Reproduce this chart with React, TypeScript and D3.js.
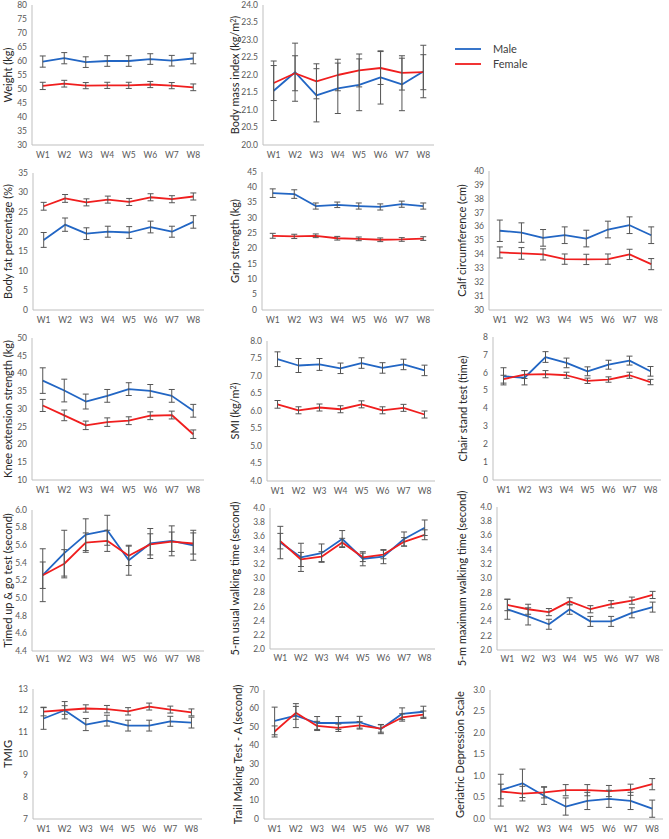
import React from "react";
import { line, range, scaleBand, scaleLinear } from "d3";

const weeks = ["W1", "W2", "W3", "W4", "W5", "W6", "W7", "W8"];

// means and error bars
const weightMale = [59.8, 61.0, 59.6, 60.0, 60.0, 60.7, 60.1, 60.9];
const weightMaleSd = [2.0, 2.0, 1.9, 1.9, 1.9, 1.9, 1.9, 1.9];
const weightFemale = [51.1, 51.9, 51.2, 51.3, 51.3, 51.6, 51.2, 50.6];
const weightFemaleSd = [1.3, 1.2, 1.1, 1.1, 1.1, 1.1, 1.1, 1.2];

const bmiMale = [21.55, 22.08, 21.42, 21.62, 21.72, 21.93, 21.73, 22.1];
const bmiMaleSd = [0.85, 0.83, 0.76, 0.72, 0.74, 0.76, 0.75, 0.75];
const bmiFemale = [21.77, 22.05, 21.82, 22.0, 22.13, 22.2, 22.06, 22.08];
const bmiFemaleSd = [0.5, 0.5, 0.5, 0.45, 0.47, 0.47, 0.49, 0.5];

const fatMale = [17.9, 21.8, 19.5, 20.0, 19.8, 21.2, 20.0, 22.5];
const fatMaleSd = [1.9, 1.7, 1.5, 1.4, 1.5, 1.5, 1.4, 1.6];
const fatFemale = [26.5, 28.5, 27.5, 28.2, 27.6, 28.8, 28.3, 29.0];
const fatFemaleSd = [1.0, 1.0, 0.9, 0.9, 0.9, 0.9, 0.9, 0.9];

const gripMale = [38.1, 37.8, 33.9, 34.3, 33.9, 33.6, 34.5, 33.9];
const gripMaleSd = [1.4, 1.4, 1.0, 0.9, 1.0, 1.0, 1.0, 1.0];
const gripFemale = [24.2, 24.0, 24.2, 23.4, 23.2, 22.9, 23.0, 23.3];
const gripFemaleSd = [0.8, 0.7, 0.6, 0.6, 0.6, 0.6, 0.6, 0.6];

const calfMale = [35.7, 35.57, 35.19, 35.38, 35.14, 35.79, 36.1, 35.38];
const calfMaleSd = [0.77, 0.7, 0.6, 0.6, 0.6, 0.6, 0.6, 0.6];
const calfFemale = [34.14, 34.07, 34.0, 33.66, 33.64, 33.66, 34.0, 33.3];
const calfFemaleSd = [0.4, 0.42, 0.4, 0.37, 0.37, 0.37, 0.37, 0.4];

const kneeMale = [38.0, 35.2, 32.1, 33.7, 35.6, 35.1, 33.7, 29.5];
const kneeMaleSd = [3.6, 3.2, 2.1, 1.8, 1.8, 1.8, 1.8, 1.8];
const kneeFemale = [31.0, 28.2, 25.4, 26.3, 26.7, 28.1, 28.3, 22.9];
const kneeFemaleSd = [1.7, 1.5, 1.2, 1.2, 1.1, 1.1, 1.1, 1.2];

const smiMale = [7.48, 7.3, 7.33, 7.22, 7.37, 7.23, 7.33, 7.16];
const smiMaleSd = [0.21, 0.2, 0.17, 0.15, 0.15, 0.15, 0.15, 0.15];
const smiFemale = [6.19, 6.02, 6.1, 6.05, 6.19, 6.02, 6.09, 5.9];
const smiFemaleSd = [0.11, 0.1, 0.1, 0.1, 0.1, 0.1, 0.1, 0.1];

const chairMale = [5.8, 5.72, 6.88, 6.55, 6.08, 6.45, 6.68, 6.08];
const chairMaleSd = [0.48, 0.4, 0.3, 0.27, 0.25, 0.25, 0.25, 0.27];
const chairFemale = [5.64, 5.9, 5.92, 5.86, 5.55, 5.62, 5.86, 5.48];
const chairFemaleSd = [0.22, 0.22, 0.2, 0.17, 0.15, 0.15, 0.17, 0.15];

const tugMale = [5.26, 5.51, 5.72, 5.77, 5.43, 5.62, 5.65, 5.6];
const tugMaleSd = [0.3, 0.26, 0.18, 0.17, 0.17, 0.17, 0.17, 0.17];
const tugFemale = [5.26, 5.39, 5.63, 5.65, 5.48, 5.61, 5.64, 5.62];
const tugFemaleSd = [0.15, 0.16, 0.11, 0.12, 0.11, 0.12, 0.11, 0.12];

const usualMale = [3.51, 3.3, 3.36, 3.56, 3.28, 3.31, 3.56, 3.72];
const usualMaleSd = [0.23, 0.2, 0.13, 0.12, 0.1, 0.1, 0.1, 0.11];
const usualFemale = [3.53, 3.27, 3.31, 3.51, 3.3, 3.34, 3.52, 3.62];
const usualFemaleSd = [0.11, 0.1, 0.07, 0.06, 0.06, 0.06, 0.06, 0.07];

const maxMale = [2.57, 2.47, 2.36, 2.57, 2.4, 2.4, 2.52, 2.6];
const maxMaleSd = [0.14, 0.12, 0.07, 0.07, 0.07, 0.07, 0.07, 0.07];
const maxFemale = [2.63, 2.57, 2.53, 2.68, 2.57, 2.64, 2.69, 2.77];
const maxFemaleSd = [0.08, 0.07, 0.05, 0.05, 0.05, 0.05, 0.05, 0.05];

const tmigMale = [11.64, 12.02, 11.36, 11.54, 11.31, 11.31, 11.51, 11.45];
const tmigMaleSd = [0.5, 0.4, 0.28, 0.25, 0.25, 0.25, 0.23, 0.25];
const tmigFemale = [11.96, 12.03, 12.1, 12.07, 11.97, 12.19, 12.05, 11.92];
const tmigFemaleSd = [0.2, 0.2, 0.17, 0.17, 0.17, 0.16, 0.16, 0.16];

const tmtMale = [53.2, 56.1, 52.1, 52.1, 52.5, 48.8, 57.1, 58.2];
const tmtMaleSd = [7.5, 6.5, 3.5, 3.5, 3.2, 2.5, 3.2, 3.0];
const tmtFemale = [47.5, 57.6, 50.5, 49.5, 50.8, 49.1, 55.1, 56.6];
const tmtFemaleSd = [3.0, 3.5, 2.5, 2.0, 2.0, 2.0, 2.0, 2.0];

const gdsMale = [0.67, 0.83, 0.54, 0.29, 0.42, 0.47, 0.42, 0.24];
const gdsMaleSd = [0.37, 0.33, 0.2, 0.2, 0.2, 0.2, 0.2, 0.2];
const gdsFemale = [0.64, 0.59, 0.62, 0.67, 0.67, 0.65, 0.68, 0.81];
const gdsFemaleSd = [0.17, 0.17, 0.13, 0.13, 0.13, 0.13, 0.13, 0.13];

const BLUE = "#2266c4";
const RED = "#f01e1e";
const FONT = "Lato, 'Open Sans', sans-serif";

type Panel = {
  title: string;
  sup?: boolean;
  male: number[];
  maleSd: number[];
  female: number[];
  femaleSd: number[];
  domain: [number, number];
  step: number;
  digits: number;
  x0: number;
  x1: number;
  y0: number;
  y1: number;
  titleX: number;
  labelGap?: number;
};

const panels: Panel[] = [
  { title: "Weight (kg)", male: weightMale, maleSd: weightMaleSd, female: weightFemale, femaleSd: weightFemaleSd, domain: [30, 80], step: 5, digits: 0, x0: 32, x1: 204, y0: 5, y1: 145, titleX: 8 },
  { title: "Body mass index (kg/m", sup: true, male: bmiMale, maleSd: bmiMaleSd, female: bmiFemale, femaleSd: bmiFemaleSd, domain: [20, 24], step: 0.5, digits: 1, x0: 263, x1: 434, y0: 5, y1: 145, titleX: 235 },
  { title: "Body fat percentage (%)", male: fatMale, maleSd: fatMaleSd, female: fatFemale, femaleSd: fatFemaleSd, domain: [0, 35], step: 5, digits: 0, x0: 33, x1: 204, y0: 173, y1: 310, titleX: 8 },
  { title: "Grip strength (kg)", male: gripMale, maleSd: gripMaleSd, female: gripFemale, femaleSd: gripFemaleSd, domain: [0, 45], step: 5, digits: 0, x0: 262, x1: 434, y0: 172, y1: 310, titleX: 235 },
  { title: "Calf circumference (cm)", male: calfMale, maleSd: calfMaleSd, female: calfFemale, femaleSd: calfFemaleSd, domain: [30, 40], step: 1, digits: 0, x0: 489, x1: 662, y0: 171, y1: 310, titleX: 462 },
  { title: "Knee extension strength (kg)", male: kneeMale, maleSd: kneeMaleSd, female: kneeFemale, femaleSd: kneeFemaleSd, domain: [10, 50], step: 5, digits: 0, x0: 32, x1: 204, y0: 338, y1: 480, titleX: 8 },
  { title: "SMI (kg/m", sup: true, male: smiMale, maleSd: smiMaleSd, female: smiFemale, femaleSd: smiFemaleSd, domain: [4, 8], step: 0.5, digits: 1, x0: 267, x1: 435, y0: 341, y1: 481, titleX: 235 },
  { title: "Chair stand test (time)", male: chairMale, maleSd: chairMaleSd, female: chairFemale, femaleSd: chairFemaleSd, domain: [0, 8], step: 1, digits: 0, x0: 493, x1: 661, y0: 337, y1: 480, titleX: 463 },
  { title: "Timed up & go test (second)", male: tugMale, maleSd: tugMaleSd, female: tugFemale, femaleSd: tugFemaleSd, domain: [4.4, 6.0], step: 0.2, digits: 1, x0: 32, x1: 204, y0: 510, y1: 651, titleX: 8, labelGap: 11 },
  { title: "5-m usual walking time (second)", male: usualMale, maleSd: usualMaleSd, female: usualFemale, femaleSd: usualFemaleSd, domain: [2, 4], step: 0.2, digits: 1, x0: 270, x1: 435, y0: 508, y1: 649, titleX: 235, labelGap: 12 },
  { title: "5-m maximum walking time (second)", male: maxMale, maleSd: maxMaleSd, female: maxFemale, femaleSd: maxFemaleSd, domain: [2, 4], step: 0.2, digits: 1, x0: 497, x1: 663, y0: 507, y1: 650, titleX: 462, labelGap: 12 },
  { title: "TMIG", male: tmigMale, maleSd: tmigMaleSd, female: tmigFemale, femaleSd: tmigFemaleSd, domain: [7, 13], step: 1, digits: 0, x0: 33, x1: 202, y0: 689, y1: 819, titleX: 8 },
  { title: "Trail Making Test - A (second)", male: tmtMale, maleSd: tmtMaleSd, female: tmtFemale, femaleSd: tmtFemaleSd, domain: [0, 70], step: 10, digits: 0, x0: 264, x1: 434, y0: 690, y1: 819, titleX: 238 },
  { title: "Geriatric Depression Scale", male: gdsMale, maleSd: gdsMaleSd, female: gdsFemale, femaleSd: gdsFemaleSd, domain: [0, 3], step: 0.5, digits: 1, x0: 490, x1: 663, y0: 690, y1: 819, titleX: 460 },
];

function ChartPanel({ p }: { p: Panel }) {
  const x = scaleBand<string>().domain(weeks).range([p.x0, p.x1]);
  const y = scaleLinear().domain(p.domain).range([p.y1, p.y0]);
  const cx = (i: number) => (x(weeks[i]) ?? 0) + x.bandwidth() / 2;
  const ticks = range(p.domain[0], p.domain[1] + p.step / 2, p.step);
  const path = line<number>()
    .x((_, i) => cx(i))
    .y((v) => y(v));
  const midY = (p.y0 + p.y1) / 2;

  const errBars = (vals: number[], sds: number[], key: string) =>
    vals.map((v, i) => {
      const xx = cx(i);
      const top = y(v + sds[i]);
      const bot = y(v - sds[i]);
      return (
        <g key={key + i} stroke="#555" strokeWidth={1}>
          <line x1={xx} x2={xx} y1={top} y2={bot} />
          <line x1={xx - 3} x2={xx + 3} y1={top} y2={top} />
          <line x1={xx - 3} x2={xx + 3} y1={bot} y2={bot} />
        </g>
      );
    });

  return (
    <g>
      <line x1={p.x0} x2={p.x0} y1={p.y0} y2={p.y1} stroke="#bfbfbf" />
      <line x1={p.x0} x2={p.x1} y1={p.y1} y2={p.y1} stroke="#bfbfbf" />
      {ticks.map((t) => (
        <text
          key={t}
          x={p.x0 - 5}
          y={y(t)}
          dy="0.33em"
          textAnchor="end"
          fontSize={8.5}
          fill="#595959"
        >
          {t.toFixed(p.digits)}
        </text>
      ))}
      {weeks.map((w, i) => (
        <text
          key={w}
          x={cx(i)}
          y={p.y1 + (p.labelGap ?? 13)}
          textAnchor="middle"
          fontSize={8.5}
          fill="#595959"
        >
          {w}
        </text>
      ))}
      <text
        transform={`translate(${p.titleX},${midY}) rotate(-90)`}
        textAnchor="middle"
        dy="0.35em"
        fontSize={11}
        fill="#262626"
      >
        {p.title}
        {p.sup ? (
          <>
            <tspan fontSize={7} dy="-0.45em">2</tspan>
            <tspan dy="0.3em">)</tspan>
          </>
        ) : null}
      </text>
      <path d={path(p.male) ?? ""} fill="none" stroke={BLUE} strokeWidth={1.8} strokeLinejoin="round" />
      <path d={path(p.female) ?? ""} fill="none" stroke={RED} strokeWidth={1.8} strokeLinejoin="round" />
      {errBars(p.male, p.maleSd, "m")}
      {errBars(p.female, p.femaleSd, "f")}
    </g>
  );
}

export default function App() {
  return (
    <svg
      width={669}
      height={839}
      style={{ position: "absolute", left: 0, top: 0, background: "#fff" }}
      fontFamily={FONT}
    >
      <rect width={669} height={839} fill="#fff" />
      {panels.map((p) => (
        <ChartPanel key={p.title} p={p} />
      ))}
      <g fontSize={11} fill="#404040">
        <line x1={455} x2={481} y1={49} y2={49} stroke={BLUE} strokeWidth={1.8} />
        <text x={493} y={49} dy="0.35em">Male</text>
        <line x1={455} x2={481} y1={64} y2={64} stroke={RED} strokeWidth={1.8} />
        <text x={493} y={64} dy="0.35em">Female</text>
      </g>
    </svg>
  );
}
